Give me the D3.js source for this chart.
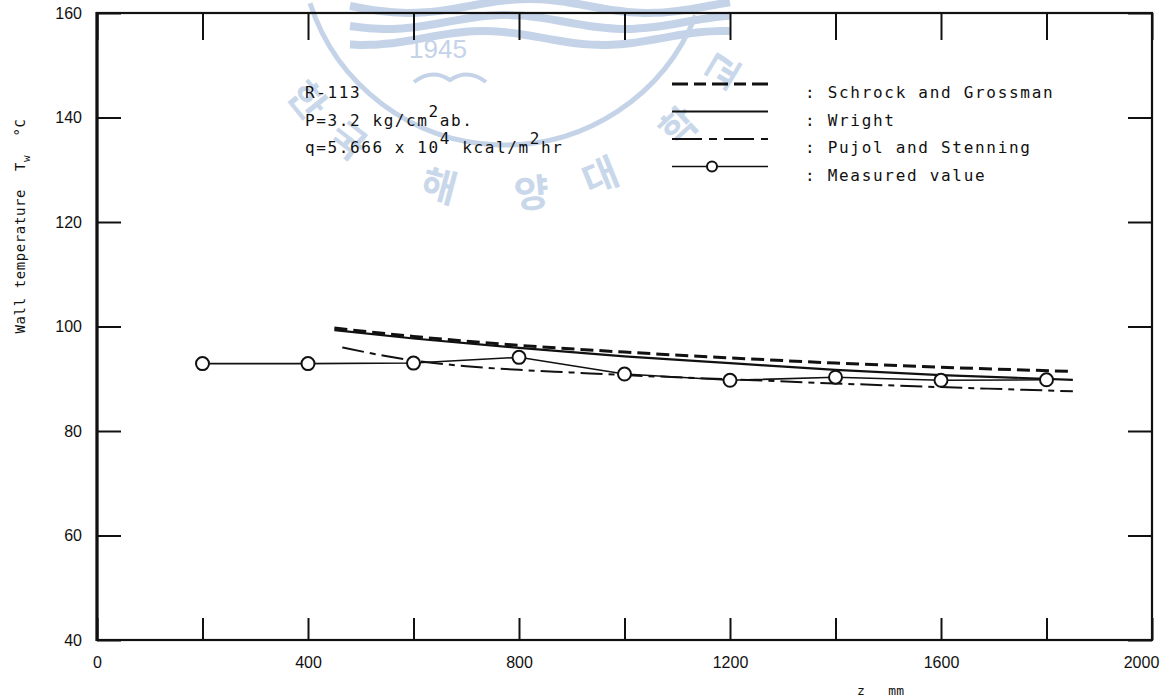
<!DOCTYPE html>
<html>
<head>
<meta charset="utf-8">
<script src="https://cdn.jsdelivr.net/npm/d3@7"></script>
<style>
  html, body { margin: 0; padding: 0; background: #fff; }
  svg { display: block; }
  .mono { font-family: "DejaVu Sans Mono", monospace; white-space: pre; }
</style>
</head>
<body>
<svg id="chart" width="1173" height="698"></svg>
<script>
// axis ticks
const X_TICKS = [0, 200, 400, 600, 800, 1000, 1200, 1400, 1600, 1800, 2000];
const X_LABELS = [0, 400, 800, 1200, 1600, 2000];
const Y_TICKS = [40, 60, 80, 100, 120, 140, 160];

// measured wall temperature
const measuredZ = [200, 400, 600, 800, 1000, 1200, 1400, 1600, 1800];
const measuredT = [92.9, 92.9, 93.0, 94.1, 90.9, 89.7, 90.3, 89.7, 89.8];

// correlations
const schrockZ = [450, 600, 800, 1000, 1200, 1400, 1600, 1850];
const schrockT = [99.7, 98.1, 96.4, 95.1, 94.0, 93.0, 92.2, 91.4];
const wrightZ = [450, 600, 800, 1000, 1200, 1400, 1600, 1850];
const wrightT = [99.3, 97.7, 95.9, 94.3, 93.0, 91.7, 90.7, 89.8];
const pujolZ = [465, 550, 600, 700, 800, 900, 1000, 1200, 1400, 1600, 1850];
const pujolT = [96.0, 94.3, 93.5, 92.4, 91.7, 91.2, 90.7, 89.9, 89.1, 88.4, 87.6];

const legendNames = ['Schrock and Grossman', 'Wright', 'Pujol and Stenning', 'Measured value'];

// watermark ring characters
const ringChars = ['한', '국', '해', '양', '대', '학', '교'];
const ringAngles = [141, 128, 105, 84, 68, 47, 31];

const svg = d3.select('#chart');
const W = 1173, H = 698;
const plotLeft = 97, plotRight = 1152, plotTop = 13, plotBottom = 640;

const x = d3.scaleLinear().domain([0, 2000]).range([plotLeft, plotRight]);
const y = d3.scaleLinear().domain([40, 160]).range([plotBottom, plotTop]);

svg.append('rect').attr('width', W).attr('height', H).attr('fill', '#fff');

// --- faint university watermark (scan artefact in the source)
const wm = svg.append('g').attr('fill', 'none').attr('stroke', '#c4d3e8');
const cx = 505, cy = -60;
for (let k = 0; k < 3; k += 1) {
  const pts = d3.range(0, 41).map(i => {
    const px = 350 + i * 9.5;
    return [px, 6 + k * 16 + 7 * Math.sin((px - 350) / 38 + k * 0.6)];
  });
  wm.append('path')
    .attr('d', d3.line().curve(d3.curveBasis)(pts))
    .attr('stroke-width', 8);
}
wm.append('path')
  .attr('d', d3.arc()({ innerRadius: 205, outerRadius: 205, startAngle: Math.PI * 0.62, endAngle: Math.PI * 1.4 }))
  .attr('transform', `translate(${cx},${cy})`)
  .attr('stroke-width', 5);
wm.append('path')
  .attr('d', 'M414,82 Q432,68 450,80 Q468,68 486,82')
  .attr('stroke-width', 4);
svg.append('text')
  .attr('x', 438).attr('y', 58)
  .attr('text-anchor', 'middle')
  .attr('font-family', 'Liberation Sans, sans-serif')
  .attr('font-size', 26)
  .attr('fill', '#c4d3e8')
  .text('1945');
ringChars.forEach((ch, i) => {
  const a = ringAngles[i] * Math.PI / 180;
  const px = cx + 255 * Math.cos(a);
  const py = cy + 255 * Math.sin(a);
  svg.append('text')
    .attr('transform', `translate(${px},${py}) rotate(${ringAngles[i] - 90})`)
    .attr('text-anchor', 'middle')
    .attr('dy', '0.35em')
    .attr('font-family', '"Noto Sans CJK KR", sans-serif')
    .attr('font-size', 38)
    .attr('font-weight', 700)
    .attr('fill', '#c9d7ea')
    .text(ch);
});

// --- axes (ticks point inward)
function styleAxis(g) {
  g.select('.domain').remove();
  g.selectAll('.tick line').attr('stroke', '#111').attr('stroke-width', 2);
  g.selectAll('.tick text')
    .attr('fill', '#111')
    .attr('font-family', 'Liberation Sans, Arial, sans-serif')
    .attr('font-size', 16);
}

svg.append('g')
  .attr('transform', `translate(${plotLeft},0)`)
  .call(d3.axisLeft(y).tickValues(Y_TICKS).tickSize(-24).tickPadding(15).tickFormat(d3.format('d')))
  .call(styleAxis);

svg.append('g')
  .attr('transform', `translate(${plotRight},0)`)
  .call(d3.axisRight(y).tickValues(Y_TICKS).tickSize(-24).tickFormat(''))
  .call(styleAxis);

svg.append('g')
  .attr('transform', `translate(0,${plotBottom})`)
  .call(d3.axisBottom(x).tickValues(X_TICKS).tickSize(-22).tickPadding(17)
    .tickFormat(d => X_LABELS.includes(d) ? d : ''))
  .call(styleAxis)
  .call(g => g.selectAll('.tick text').filter(d => d === 2000).attr('dx', -11));

svg.append('g')
  .attr('transform', `translate(0,${plotTop})`)
  .call(d3.axisTop(x).tickValues(X_TICKS).tickSize(-27).tickFormat(''))
  .call(styleAxis);

// frame
svg.append('rect')
  .attr('x', plotLeft).attr('y', plotTop)
  .attr('width', plotRight - plotLeft).attr('height', plotBottom - plotTop)
  .attr('fill', 'none').attr('stroke', '#111').attr('stroke-width', 2.2);
svg.append('line')
  .attr('x1', plotLeft).attr('x2', plotLeft).attr('y1', plotTop - 1).attr('y2', plotBottom + 1)
  .attr('stroke', '#111').attr('stroke-width', 3.2);

// --- curves
const curve = d3.line()
  .x(d => x(d[0]))
  .y(d => y(d[1]))
  .curve(d3.curveMonotoneX);

const plot = svg.append('g').attr('fill', 'none').attr('stroke', '#111');

plot.append('path')
  .attr('d', curve(d3.zip(pujolZ, pujolT)))
  .attr('stroke-width', 2)
  .attr('stroke-dasharray', '22,6,6,6');

plot.append('path')
  .attr('d', curve(d3.zip(wrightZ, wrightT)))
  .attr('stroke-width', 2.2);

plot.append('path')
  .attr('d', curve(d3.zip(schrockZ, schrockT)))
  .attr('stroke-width', 3)
  .attr('stroke-dasharray', '13,6');

plot.append('path')
  .attr('d', d3.line().x(d => x(d[0])).y(d => y(d[1]))(d3.zip(measuredZ, measuredT)))
  .attr('stroke-width', 1.6);

svg.append('g')
  .selectAll('circle')
  .data(d3.zip(measuredZ, measuredT))
  .join('circle')
  .attr('cx', d => x(d[0]))
  .attr('cy', d => y(d[1]))
  .attr('r', 6.5)
  .attr('fill', '#fff')
  .attr('stroke', '#111')
  .attr('stroke-width', 2);

// --- legend
const rowBase = [98, 125.5, 153, 180.5];
const legend = svg.append('g');
const sampleX0 = 672, sampleX1 = 768, textX = 805;

legendNames.forEach((name, i) => {
  const ly = rowBase[i] - 14;
  const ln = legend.append('line')
    .attr('x1', sampleX0).attr('x2', sampleX1)
    .attr('y1', ly).attr('y2', ly)
    .attr('stroke', '#111');
  if (i === 0) ln.attr('stroke-width', 3).attr('stroke-dasharray', '16,6,12,6');
  if (i === 1) ln.attr('stroke-width', 2);
  if (i === 2) ln.attr('stroke-width', 2).attr('stroke-dasharray', '30,7,8,7');
  if (i === 3) {
    ln.attr('stroke-width', 1.6);
    legend.append('circle')
      .attr('cx', 712).attr('cy', ly).attr('r', 5)
      .attr('fill', '#fff').attr('stroke', '#111').attr('stroke-width', 2);
  }
  legend.append('text')
    .attr('class', 'mono')
    .attr('x', textX).attr('y', rowBase[i])
    .attr('font-size', 16)
    .attr('letter-spacing', 1.7)
    .attr('fill', '#111')
    .text(': ' + name);
});

// --- condition annotation
const note = svg.append('g')
  .attr('class', 'mono')
  .attr('font-size', 16)
  .attr('letter-spacing', 1.6)
  .attr('fill', '#111');

note.append('text').attr('x', 305).attr('y', rowBase[0]).text('R-113');

const p = note.append('text').attr('x', 305).attr('y', rowBase[1]);
p.append('tspan').text('P=3.2 kg/cm');
p.append('tspan').attr('dy', -9).text('2');
p.append('tspan').attr('dy', 9).text('ab.');

const q = note.append('text').attr('x', 305).attr('y', rowBase[2]);
q.append('tspan').text('q=5.666 x 10');
q.append('tspan').attr('dy', -9).text('4');
q.append('tspan').attr('dy', 9).text(' kcal/m');
q.append('tspan').attr('dy', -9).text('2');
q.append('tspan').attr('dy', 9).text('hr');

// --- axis titles
const yt = svg.append('text')
  .attr('class', 'mono')
  .attr('transform', 'translate(25,226) rotate(-90)')
  .attr('text-anchor', 'middle')
  .attr('font-size', 14)
  .attr('letter-spacing', 0.6)
  .attr('fill', '#111');
yt.append('tspan').text('Wall temperature  T');
yt.append('tspan').attr('dy', 5).attr('font-size', 11).text('w');
yt.append('tspan').attr('dy', -5).text('  °C');

svg.append('text')
  .attr('class', 'mono')
  .attr('x', 857).attr('y', 695)
  .attr('font-size', 13)
  .attr('fill', '#111')
  .text('z   mm');
</script>
</body>
</html>
